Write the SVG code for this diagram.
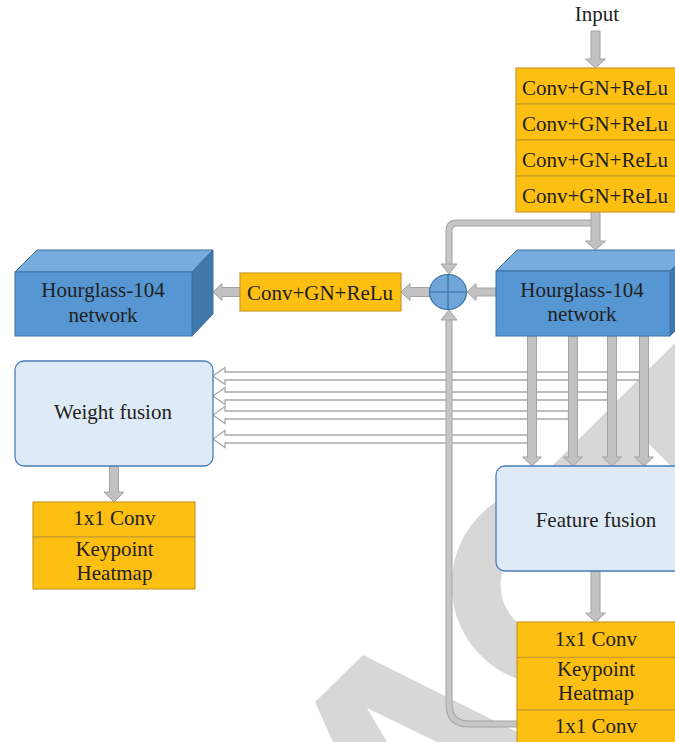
<svg xmlns="http://www.w3.org/2000/svg" width="675" height="742" viewBox="0 0 675 742">
<style>
text{font-family:"Liberation Serif","Times New Roman",serif;font-size:21px;fill:#231f20;text-anchor:middle}
.wm{fill:#d7d7d7}
.org{fill:#fcbf12;stroke:#c99b2c;stroke-width:1.2}
.fus{fill:#deebf7;stroke:#4a7eb5;stroke-width:1.3}
.front{fill:#5596d3;stroke:#3e6f9f;stroke-width:1}
.top{fill:#77acde;stroke:#3e6f9f;stroke-width:1}
.side{fill:#3f78ab;stroke:#3e6f9f;stroke-width:1}
.ga{fill:#c2c2c2;stroke:#a3a3a3;stroke-width:1}
.hl{fill:#fff;stroke:#a8a8a8;stroke-width:1.3}
.bo{fill:none;stroke:#a3a3a3;stroke-width:7}
.bi{fill:none;stroke:#c6c6c6;stroke-width:5}
</style>
<rect width="675" height="742" fill="#fff"/>
<g id="watermark">
<polygon class="wm" points="675,343 520,498 646,498 646,441 675,470"/>
<path d="M568,535 L560,487" fill="none"/>
<path d="M564.9,510.6 A75.5,75.5 0 1 0 563.9,659.4" fill="none" stroke="#d7d7d7" stroke-width="49"/>
<polygon class="wm" points="363,655 537,742 437,742 367,708 387,742 333,742 315,702"/>
</g>
<g id="connectors">
<polygon class="ga" points="591,31 600,31 600,59 605.5,59 595.5,68 585.5,59 591,59"/>
<path class="bo" d="M595,223 H457 Q449,223 449,231 V264"/>
<path class="bi" d="M596,223 H457 Q449,223 449,231 V265"/>
<polygon class="ga" points="441,264 457,264 449,274"/>
<polygon class="ga" points="591,212 600,212 600,241 605.5,241 595.5,250 585.5,241 591,241"/>
<polygon class="ga" points="496,288 476,288 476,283.5 467,292 476,300.5 476,296 496,296"/>
<polygon class="ga" points="430,287.5 410,287.5 410,283.5 401,292 410,300.5 410,296.5 430,296.5"/>
<polygon class="ga" points="240,287.5 222,287.5 222,283.5 213,292 222,300.5 222,296.5 240,296.5"/>
<polygon class="hl" points="639.5,372 225,372 225,367.5 213,376 225,384.5 225,380 639.5,380"/>
<polygon class="hl" points="607.5,392 225,392 225,387.5 213,396 225,404.5 225,400 607.5,400"/>
<polygon class="hl" points="568.5,411 225,411 225,406.5 213,415 225,423.5 225,419 568.5,419"/>
<polygon class="hl" points="527.5,435 225,435 225,430.5 213,439 225,447.5 225,443 527.5,443"/>
<path class="bo" d="M517,724 H469 Q449,724 449,704 V320"/>
<path class="bi" d="M518,724 H469 Q449,724 449,704 V319"/>
<polygon class="ga" points="441,320 457,320 449,310"/>
<polygon class="ga" points="527.5,336 536.5,336 536.5,457 541.5,457 532,466 522.5,457 527.5,457"/>
<polygon class="ga" points="568.5,336 577.5,336 577.5,457 582.5,457 573,466 563.5,457 568.5,457"/>
<polygon class="ga" points="607.5,336 616.5,336 616.5,457 621.5,457 612,466 602.5,457 607.5,457"/>
<polygon class="ga" points="639.5,336 648.5,336 648.5,457 653.5,457 644,466 634.5,457 639.5,457"/>
<polygon class="ga" points="109.5,466 118.5,466 118.5,492 124,492 114,502 104,492 109.5,492"/>
<polygon class="ga" points="591,571 600,571 600,613 605.5,613 595.5,622 585.5,613 591,613"/>
</g>
<g id="input-label"><text x="597" y="21">Input</text></g>
<g id="conv-stack">
<rect class="org" x="516" y="68" width="165" height="36"/>
<rect class="org" x="516" y="104" width="165" height="36"/>
<rect class="org" x="516" y="140" width="165" height="36"/>
<rect class="org" x="516" y="176" width="165" height="36"/>
<text x="595" y="95">Conv+GN+ReLu</text>
<text x="595" y="131">Conv+GN+ReLu</text>
<text x="595" y="167">Conv+GN+ReLu</text>
<text x="595" y="203">Conv+GN+ReLu</text>
</g>
<g id="hourglass-right">
<polygon class="top" points="496,271 517,250 691,250 670,271"/>
<polygon class="side" points="670,271 691,250 691,315 670,336"/>
<rect class="front" x="496" y="271" width="174" height="65"/>
<text x="582" y="297">Hourglass-104</text>
<text x="582" y="321">network</text>
</g>
<g id="sum">
<ellipse cx="448" cy="292" rx="18.5" ry="17.5" fill="#6fa6da" stroke="#3b6ea5" stroke-width="1.2"/>
<path d="M429.5,292 H466.5 M448,274.5 V309.5" stroke="#3b6ea5" stroke-width="1.2"/>
</g>
<g id="conv-mid">
<rect class="org" x="240" y="273" width="161" height="38"/>
<text x="320" y="300">Conv+GN+ReLu</text>
</g>
<g id="hourglass-left">
<polygon class="top" points="15,272 37,250 213,250 192,272"/>
<polygon class="side" points="192,272 213,250 213,314 192,336"/>
<rect class="front" x="15" y="272" width="177" height="64"/>
<text x="103" y="297">Hourglass-104</text>
<text x="103" y="322">network</text>
</g>
<g id="weight-fusion">
<rect class="fus" x="15" y="361" width="198" height="105" rx="9"/>
<text x="113" y="419">Weight fusion</text>
</g>
<g id="heatmap-left">
<rect class="org" x="33" y="502" width="162" height="35"/>
<rect class="org" x="33" y="537" width="162" height="52"/>
<text x="114.5" y="525">1x1 Conv</text>
<text x="114.5" y="556">Keypoint</text>
<text x="114.5" y="580">Heatmap</text>
</g>
<g id="feature-fusion">
<rect class="fus" x="496" y="466" width="200" height="105" rx="9"/>
<text x="596" y="527">Feature fusion</text>
</g>
<g id="heatmap-right">
<rect class="org" x="517" y="622" width="170" height="35.5"/>
<rect class="org" x="517" y="657.5" width="170" height="52.5"/>
<rect class="org" x="517" y="710" width="170" height="40"/>
<text x="596" y="646">1x1 Conv</text>
<text x="596" y="676">Keypoint</text>
<text x="596" y="700">Heatmap</text>
<text x="596" y="733">1x1 Conv</text>
</g>
</svg>
